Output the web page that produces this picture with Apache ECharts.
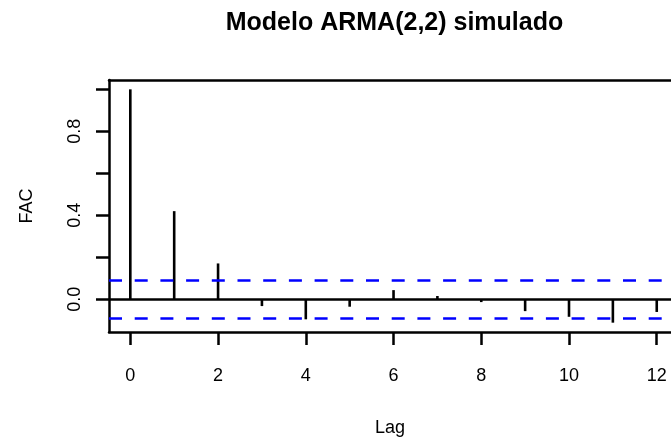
<!DOCTYPE html>
<html>
<head>
<meta charset="utf-8">
<script src="https://cdn.jsdelivr.net/npm/echarts@6/dist/echarts.min.js"></script>
<style>
html,body{margin:0;padding:0;background:#fff;}
#chart{width:671px;height:437px;}
</style>
</head>
<body>
<div id="chart"></div>
<script>
// Data
var lags = [0, 1, 2, 3, 4, 5, 6, 7, 8, 9, 10, 11, 12];
var acfValues = [1.0, 0.42, 0.171, -0.032, -0.095, -0.035, 0.044, 0.016, -0.013, -0.056, -0.083, -0.111, -0.060];
var ciBound = 0.0866;
var xTicks = [0, 2, 4, 6, 8, 10, 12];
var yTicks = [0, 0.2, 0.4, 0.6, 0.8, 1.0];
var yLabels = [0, 0.4, 0.8];
var titleText = 'Modelo ARMA(2,2) simulado';
var xName = 'Lag';
var yName = 'FAC';

var FONT = '"Liberation Sans", Arial, sans-serif';
var chart = echarts.init(document.getElementById('chart'), null, {renderer: 'canvas'});

var seriesData = lags.map(function (l, i) { return [l, acfValues[i]]; });
var X_MIN = -0.486, X_MAX = 12.325;
var Y_MIN = -0.1554, Y_MAX = 1.0444;
var boxLine = {show: true, onZero: false, lineStyle: {color: '#000', width: 2.5}};
var SPIKE_W = 2.6;

function renderSpike(params, api) {
  var base = api.coord([api.value(0), 0]);
  var tip = api.coord([api.value(0), api.value(1)]);
  var y0 = Math.min(base[1], tip[1]);
  var h = Math.abs(tip[1] - base[1]);
  return {
    type: 'rect',
    shape: {x: base[0] - SPIKE_W / 2, y: y0, width: SPIKE_W, height: h},
    style: {fill: '#000'}
  };
}

var option = {
  animation: false,
  backgroundColor: '#fff',
  grid: {left: 109, right: 0, top: 80, bottom: 105, containLabel: false, outerBoundsMode: 'none'},
  graphic: [{
    type: 'text',
    x: 394.5, y: 23.5,
    style: {
      text: titleText,
      font: 'bold 25px ' + FONT,
      fill: '#000',
      textAlign: 'center',
      textVerticalAlign: 'middle'
    }
  }],
  xAxis: [{
    type: 'value',
    position: 'bottom',
    min: X_MIN, max: X_MAX,
    name: xName,
    nameLocation: 'middle',
    nameGap: 87,
    nameTextStyle: {fontSize: 18, color: '#000', fontFamily: FONT},
    axisLine: boxLine,
    splitLine: {show: false},
    axisTick: {show: true, inside: false, length: 13, customValues: xTicks, lineStyle: {color: '#000', width: 2.5}},
    axisLabel: {show: true, customValues: xTicks, margin: 35, fontSize: 18, color: '#000', fontFamily: FONT}
  }, {
    type: 'value',
    position: 'top',
    min: X_MIN, max: X_MAX,
    axisLine: boxLine,
    splitLine: {show: false},
    axisTick: {show: false},
    axisLabel: {show: false}
  }],
  yAxis: {
    type: 'value',
    min: Y_MIN, max: Y_MAX,
    name: yName,
    nameLocation: 'middle',
    nameRotate: 90,
    nameGap: 73,
    nameTextStyle: {fontSize: 18, color: '#000', fontFamily: FONT},
    axisLine: boxLine,
    splitLine: {show: false},
    axisTick: {show: true, inside: false, length: 13, customValues: yTicks, lineStyle: {color: '#000', width: 2.5}},
    axisLabel: {
      show: true, customValues: yLabels, rotate: 90, margin: 25,
      fontSize: 18, color: '#000', fontFamily: FONT,
      formatter: function (v) { return Number(v).toFixed(1); }
    }
  },
  series: [{
    type: 'custom',
    xAxisIndex: 0,
    data: seriesData,
    renderItem: renderSpike,
    silent: true,
    z: 3
  }, {
    type: 'line',
    xAxisIndex: 0,
    data: [],
    silent: true,
    markLine: {
      silent: true,
      symbol: ['none', 'none'],
      label: {show: false},
      data: [
        {yAxis: 0, lineStyle: {color: '#000', width: 2.5, type: 'solid'}},
        {yAxis: ciBound, lineStyle: {color: '#0000FF', width: 2.7, type: [13, 12.7]}},
        {yAxis: -ciBound, lineStyle: {color: '#0000FF', width: 2.7, type: [13, 12.7]}}
      ]
    }
  }]
};
chart.setOption(option);
</script>
</body>
</html>
